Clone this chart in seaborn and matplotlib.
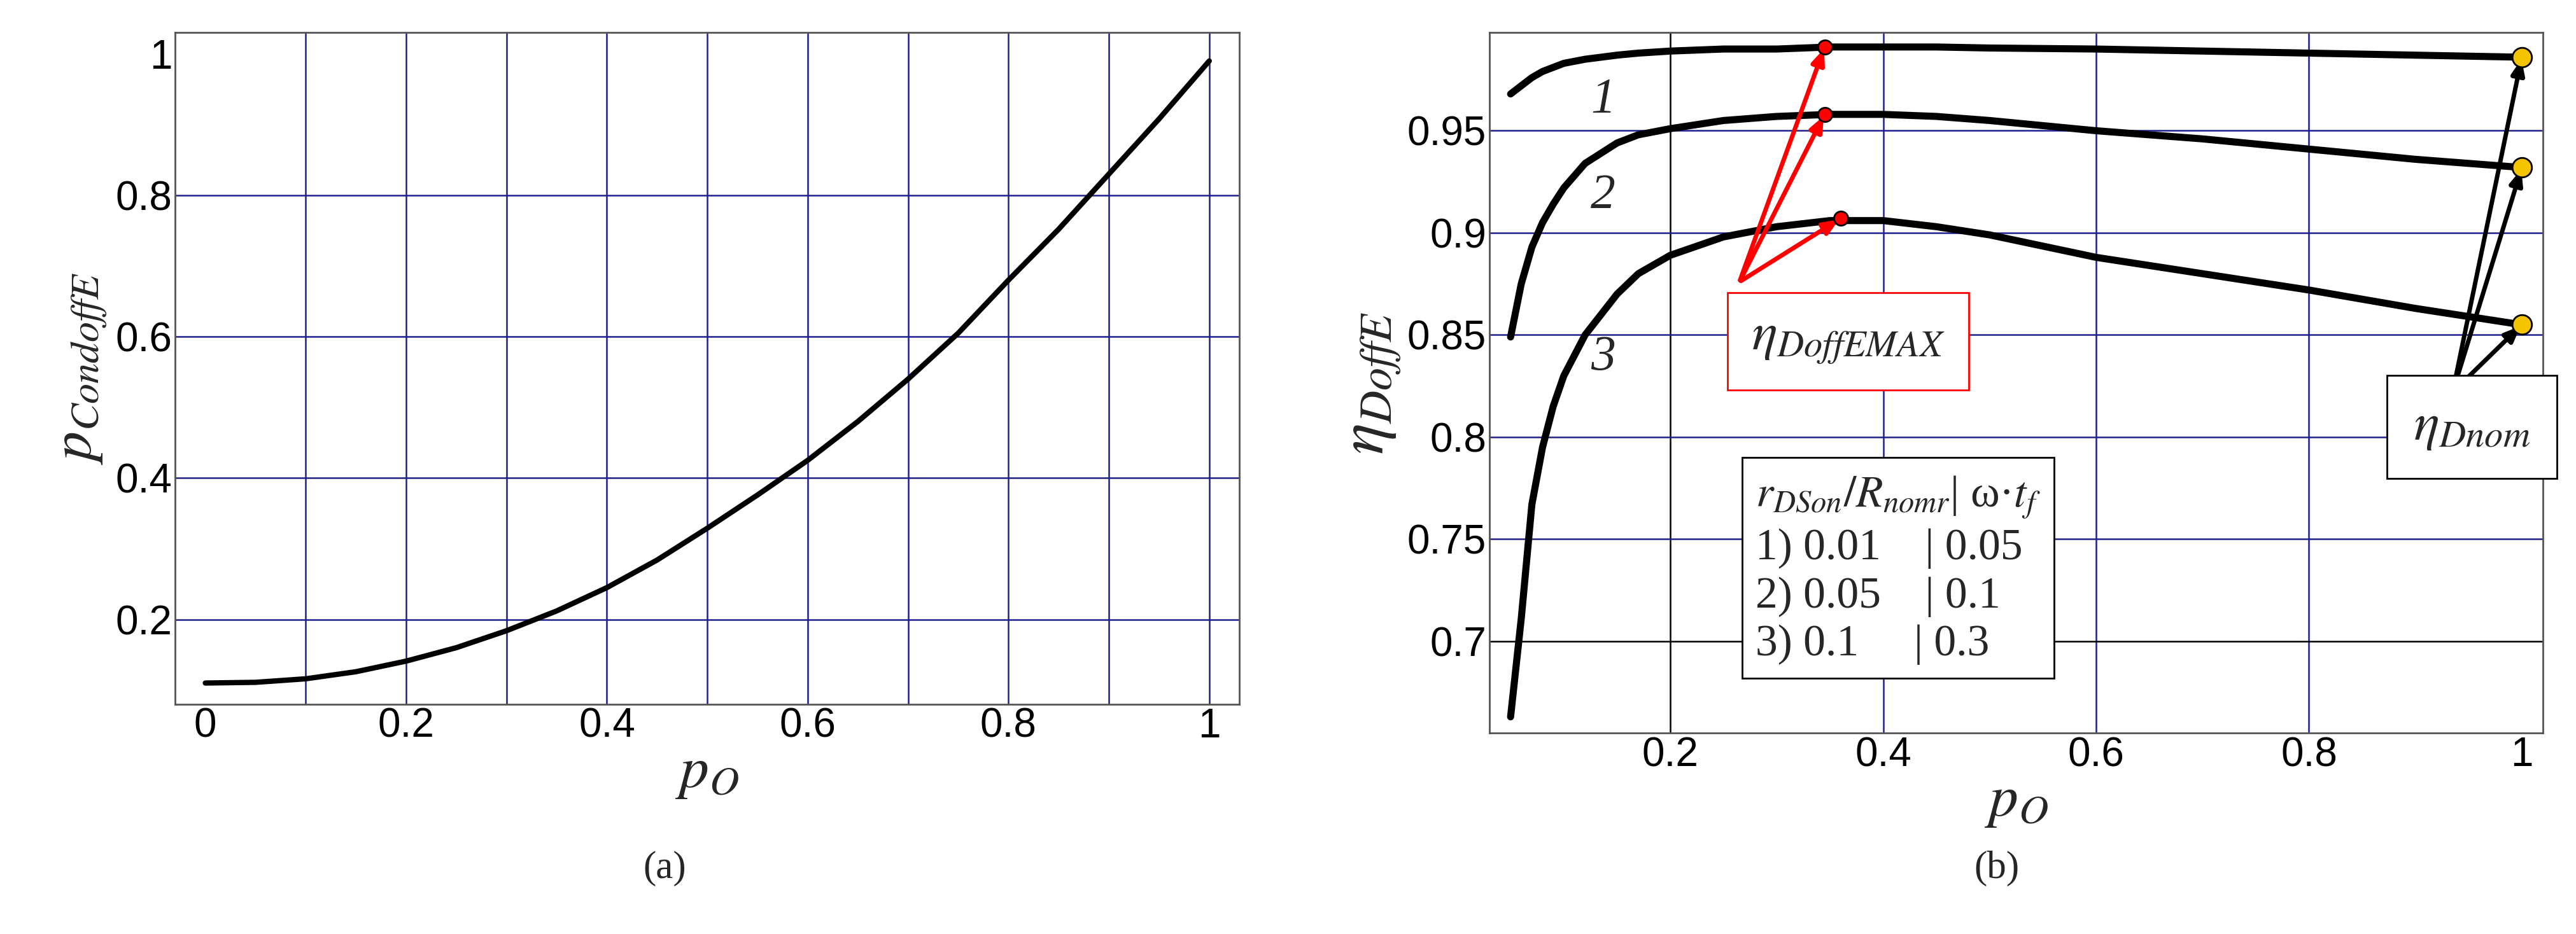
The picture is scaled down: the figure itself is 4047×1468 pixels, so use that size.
import numpy as np
import pandas as pd
import seaborn as sns
import matplotlib.pyplot as plt
from matplotlib.ticker import MultipleLocator

sns.set_theme(style="white")
plt.rcParams['font.family'] = ['Liberation Sans', 'DejaVu Sans']
plt.rcParams['mathtext.fontset'] = 'stix'

# panel (a)
po_a = [0.0, 0.05, 0.1, 0.15, 0.2, 0.25, 0.3, 0.35, 0.4, 0.45, 0.5, 0.55, 0.6, 0.65, 0.7, 0.75, 0.8, 0.85, 0.9, 0.95, 1.0]
p_cond = [0.110, 0.111, 0.116, 0.126, 0.141, 0.160, 0.184, 0.212, 0.245, 0.284, 0.329, 0.376, 0.425, 0.480, 0.540, 0.605, 0.680, 0.752, 0.830, 0.908, 0.990]

# panel (b)
po_b = [0.05, 0.06, 0.07, 0.08, 0.09, 0.1, 0.12, 0.15, 0.17, 0.2, 0.25, 0.3, 0.35, 0.4, 0.45, 0.5, 0.6, 0.7, 0.8, 0.9, 1.0]
eta1 = [0.968, 0.972, 0.976, 0.979, 0.981, 0.983, 0.985, 0.987, 0.988, 0.989, 0.990, 0.990, 0.991, 0.991, 0.991, 0.9905, 0.990, 0.989, 0.988, 0.987, 0.986]
eta2 = [0.849, 0.875, 0.893, 0.905, 0.914, 0.922, 0.934, 0.944, 0.948, 0.951, 0.955, 0.957, 0.958, 0.958, 0.957, 0.955, 0.950, 0.946, 0.941, 0.936, 0.932]
eta3 = [0.663, 0.711, 0.767, 0.795, 0.815, 0.830, 0.850, 0.870, 0.880, 0.889, 0.898, 0.903, 0.906, 0.906, 0.903, 0.899, 0.888, 0.880, 0.872, 0.863, 0.855]
curve_ids = ["1", "2", "3"]
emax_pts = [(0.345, 0.991), (0.345, 0.958), (0.36, 0.907)]
nom_pts = [(1.0, 0.986), (1.0, 0.932), (1.0, 0.855)]
table_rows = ["1) 0.01", "2) 0.05", "3) 0.1"]
table_wt = ["0.05", "0.1", "0.3"]

fig = plt.figure(figsize=(40.48, 14.68), dpi=100)
ax1 = fig.add_axes([0.068, 0.246, 0.413, 0.719])
ax2 = fig.add_axes([0.578, 0.215, 0.409, 0.750])

navy = "#1f1f8f"
serif = ['Liberation Serif', 'DejaVu Serif']

def style(ax):
    for s in ax.spines.values():
        s.set_color("#555555")
        s.set_linewidth(2)
    ax.tick_params(axis='both', labelsize=46, direction='in', length=10, width=1.5, colors="#555555", labelcolor='black')
    ax.tick_params(which='minor', direction='in', length=6, width=1.2, colors="#555555")

df_a = pd.DataFrame({"po": po_a, "p": p_cond})
sns.lineplot(data=df_a, x="po", y="p", ax=ax1, color="black", linewidth=6)
ax1.set_xlim(-0.03, 1.03)
ax1.set_ylim(0.08, 1.03)
ax1.set_xticks([0, 0.2, 0.4, 0.6, 0.8, 1])
ax1.set_xticklabels(["0", "0.2", "0.4", "0.6", "0.8", "1"])
ax1.set_yticks([0.2, 0.4, 0.6, 0.8, 1])
ax1.set_yticklabels(["0.2", "0.4", "0.6", "0.8", "1"])
for v in np.arange(0.1, 1.01, 0.1):
    ax1.axvline(v, color=navy, lw=1.8, zorder=0)
for v in [0.2, 0.4, 0.6, 0.8]:
    ax1.axhline(v, color=navy, lw=1.8, zorder=0)
ax1.xaxis.set_minor_locator(MultipleLocator(0.05))
ax1.yaxis.set_minor_locator(MultipleLocator(0.05))
style(ax1)
ax1.set_xlabel(r"$p_O$", fontsize=66, labelpad=0)
ax1.set_ylabel(r"$p_{CondoffE}$", fontsize=66, labelpad=8)

df_b = pd.DataFrame({"po": po_b * 3, "eta": eta1 + eta2 + eta3,
                     "curve": [c for c in curve_ids for _ in po_b]})
sns.lineplot(data=df_b, x="po", y="eta", units="curve", estimator=None, ax=ax2,
             color="black", linewidth=8, legend=False)
ax2.set_xlim(0.03, 1.02)
ax2.set_ylim(0.655, 0.998)
ax2.set_xticks([0.2, 0.4, 0.6, 0.8, 1])
ax2.set_xticklabels(["0.2", "0.4", "0.6", "0.8", "1"])
ax2.set_yticks([0.7, 0.75, 0.8, 0.85, 0.9, 0.95])
ax2.set_yticklabels(["0.7", "0.75", "0.8", "0.85", "0.9", "0.95"])
ax2.axvline(0.2, color="black", lw=1.8, zorder=0)
for v in [0.4, 0.6, 0.8]:
    ax2.axvline(v, color=navy, lw=1.8, zorder=0)
ax2.axhline(0.7, color="black", lw=1.8, zorder=0)
for v in [0.75, 0.8, 0.85, 0.9, 0.95]:
    ax2.axhline(v, color=navy, lw=1.8, zorder=0)
ax2.xaxis.set_minor_locator(MultipleLocator(0.05))
ax2.yaxis.set_minor_locator(MultipleLocator(0.01))
style(ax2)
ax2.set_xlabel(r"$p_O$", fontsize=66, labelpad=0)
ax2.set_ylabel(r"$\eta_{DoffE}$", fontsize=74, labelpad=4)

for lab, (x, y) in zip(curve_ids, [(0.137, 0.965), (0.137, 0.918), (0.137, 0.839)]):
    ax2.text(x, y, lab, fontsize=56, style='italic', family=serif, ha='center', va='center')

# arrows to maxima
for (x, y) in emax_pts:
    ax2.annotate("", xy=(x, y), xytext=(0.265, 0.876),
                 arrowprops=dict(arrowstyle="-|>,head_length=1.2,head_width=0.5", color="red", lw=5))
    ax2.plot(x, y, 'o', ms=16, mfc="red", mec="black", mew=2, zorder=5)
for (x, y) in nom_pts:
    ax2.annotate("", xy=(x, y), xytext=(0.935, 0.822),
                 arrowprops=dict(arrowstyle="-|>,head_length=1.2,head_width=0.5", color="black", lw=5))
    ax2.plot(x, y, 'o', ms=22, mfc="#f5c400", mec="black", mew=2, zorder=5)

ax2.text(0.367, 0.847, r"$\eta_{DoffEMAX}$", fontsize=60, ha='center', va='center',
         bbox=dict(boxstyle="square,pad=0.45", fc="white", ec="red", lw=2))
ax2.text(0.953, 0.805, r"$\eta_{Dnom}$", fontsize=60, ha='center', va='center',
         bbox=dict(boxstyle="square,pad=0.5", fc="white", ec="black", lw=2))

tbl = r"$r_{DSon}/R_{nomr}$| ω·$t_f$" + "\n" + "\n".join(
    f"{a:<11}| {b}" for a, b in zip(table_rows, table_wt))
ax2.text(0.28, 0.735, tbl, fontsize=50, family=serif, ha='left', va='center', linespacing=1.25,
         bbox=dict(boxstyle="square,pad=0.3", fc="white", ec="black", lw=2), zorder=6)

fig.text(0.258, 0.06, "(a)", fontsize=44, family=serif, ha='center')
fig.text(0.775, 0.06, "(b)", fontsize=44, family=serif, ha='center')

fig.savefig("out.png", dpi=100)
